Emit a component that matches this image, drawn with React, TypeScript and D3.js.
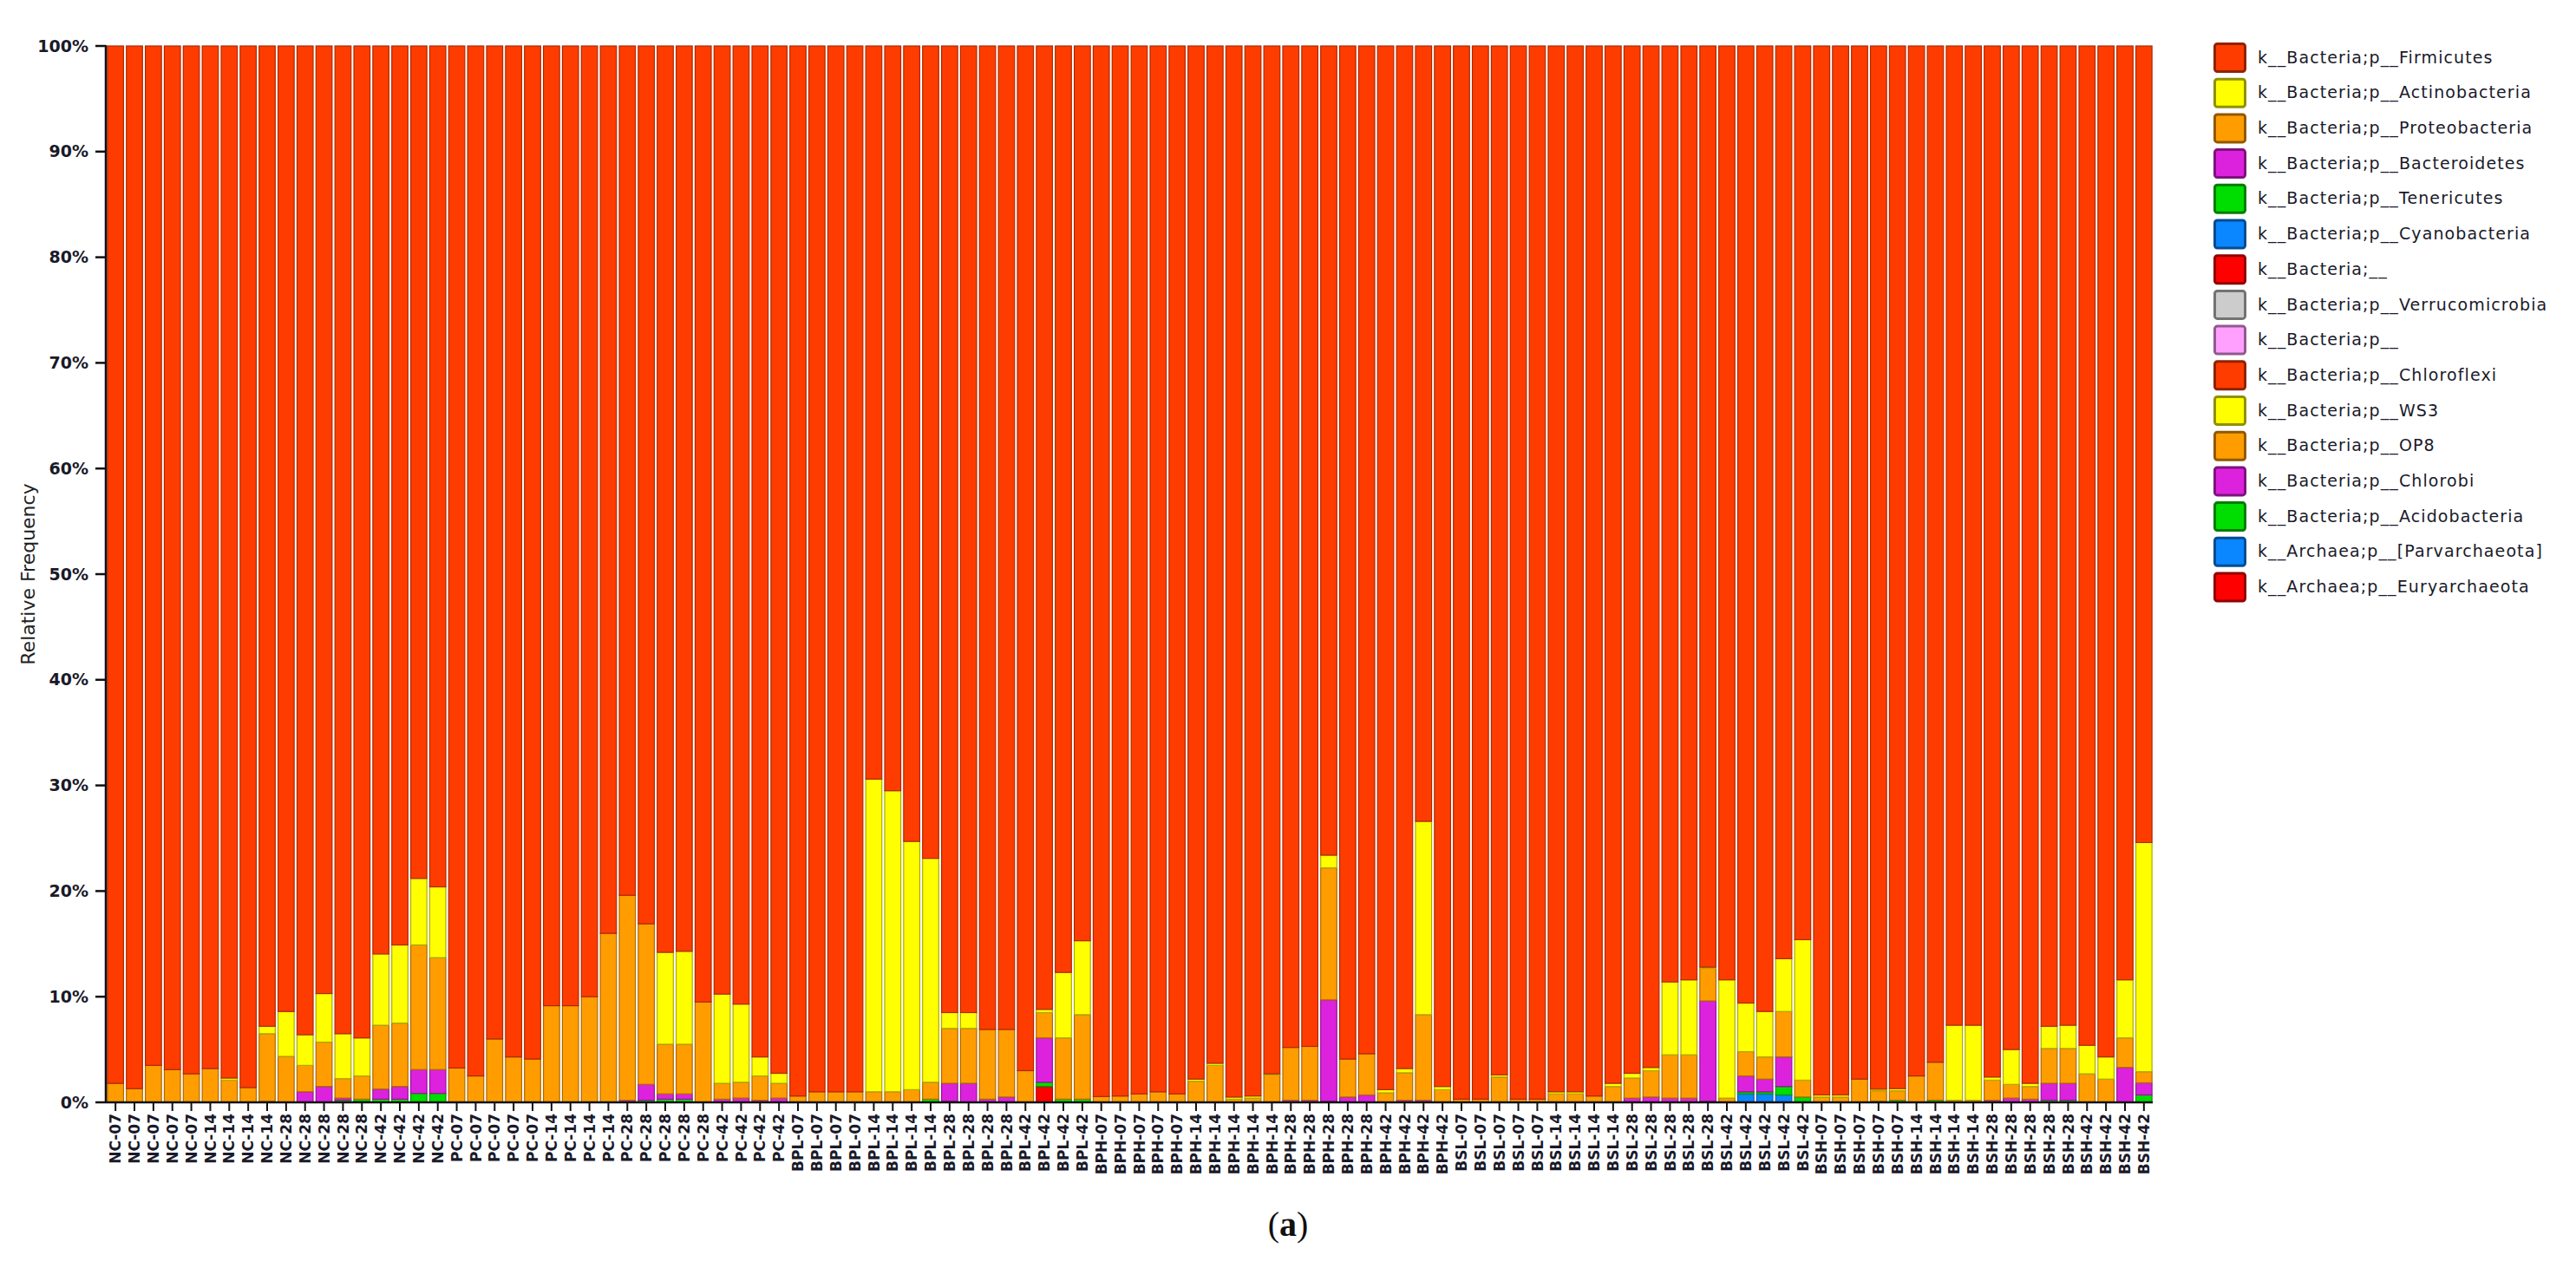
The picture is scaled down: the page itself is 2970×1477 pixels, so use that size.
import React from "react";
import * as d3 from "d3";

// ---------- sample (x-axis) labels ----------
const samples: string[] = [
  "NC-07", "NC-07", "NC-07", "NC-07", "NC-07", "NC-14", "NC-14", "NC-14", "NC-14",
  "NC-28", "NC-28", "NC-28", "NC-28", "NC-28", "NC-42", "NC-42", "NC-42", "NC-42",
  "PC-07", "PC-07", "PC-07", "PC-07", "PC-07", "PC-14", "PC-14", "PC-14", "PC-14",
  "PC-28", "PC-28", "PC-28", "PC-28", "PC-28", "PC-42", "PC-42", "PC-42", "PC-42",
  "BPL-07", "BPL-07", "BPL-07", "BPL-07", "BPL-14", "BPL-14", "BPL-14", "BPL-14",
  "BPL-28", "BPL-28", "BPL-28", "BPL-28", "BPL-42", "BPL-42", "BPL-42", "BPL-42",
  "BPH-07", "BPH-07", "BPH-07", "BPH-07", "BPH-07", "BPH-14", "BPH-14", "BPH-14", "BPH-14", "BPH-14",
  "BPH-28", "BPH-28", "BPH-28", "BPH-28", "BPH-28", "BPH-42", "BPH-42", "BPH-42", "BPH-42",
  "BSL-07", "BSL-07", "BSL-07", "BSL-07", "BSL-07", "BSL-14", "BSL-14", "BSL-14", "BSL-14",
  "BSL-28", "BSL-28", "BSL-28", "BSL-28", "BSL-28", "BSL-42", "BSL-42", "BSL-42", "BSL-42", "BSL-42",
  "BSH-07", "BSH-07", "BSH-07", "BSH-07", "BSH-07", "BSH-14", "BSH-14", "BSH-14", "BSH-14",
  "BSH-28", "BSH-28", "BSH-28", "BSH-28", "BSH-28", "BSH-42", "BSH-42", "BSH-42", "BSH-42",
];

// ---------- series values (% relative frequency) ----------
const firmicutes: number[] = [
  98.2, 98.7, 96.5, 96.9, 97.3, 96.8, 97.7, 98.6, 92.8, 91.4, 93.6, 89.7, 93.5, 93.9, 85.95, 85.1, 78.8, 79.6,
  96.75, 97.5, 94.0, 95.7, 95.9, 90.85, 90.85, 90.0, 84.0, 80.4, 83.1, 85.8, 85.7, 90.5, 89.75, 90.7, 95.7, 97.25,
  99.4, 99.0, 99.0, 99.0, 69.4, 70.5, 75.3, 76.9, 91.5, 91.5, 93.1, 93.1, 97.0, 91.2, 87.7, 84.7,
  99.45, 99.4, 99.2, 99.0, 99.2, 97.8, 96.3, 99.5, 99.4, 97.3, 94.8, 94.7, 76.6, 95.9, 95.4, 98.8, 96.8, 73.4, 98.5,
  99.7, 99.7, 97.4, 99.7, 99.7, 99.0, 99.0, 99.4, 98.2, 97.25, 96.7, 88.6, 88.4, 87.2, 88.4, 90.6, 91.4, 86.4, 84.6,
  99.3, 99.3, 97.8, 98.75, 98.7, 97.5, 96.2, 92.7, 92.7, 97.6, 95.0, 98.2, 92.8, 92.7, 94.6, 95.7, 88.4, 75.4,
];
const actinobacteria: number[] = [
  0, 0, 0, 0, 0, 0, 0.2, 0, 0.7, 4.25, 2.9, 4.6, 4.25, 3.6, 6.75, 7.4, 6.3, 6.7,
  0, 0, 0, 0, 0, 0, 0, 0, 0, 0, 0, 8.7, 8.8, 0, 8.45, 7.4, 1.8, 0.95,
  0, 0, 0, 0, 29.6, 28.5, 23.5, 21.2, 1.5, 1.5, 0, 0, 0, 0.3, 6.2, 7.0,
  0, 0, 0, 0, 0, 0.2, 0.2, 0.2, 0.2, 0.1, 0, 0, 1.2, 0, 0, 0.3, 0.4, 18.3, 0.3,
  0, 0, 0.2, 0, 0, 0.2, 0.2, 0, 0.3, 0.45, 0.3, 6.9, 7.1, 0.1, 11.2, 4.6, 4.3, 5.0, 13.3,
  0.2, 0.2, 0, 0.15, 0.2, 0, 0, 7.1, 7.1, 0.3, 3.3, 0.3, 2.1, 2.2, 2.7, 2.1, 5.5, 21.7,
];
const proteobacteria: number[] = [
  1.8, 1.3, 3.5, 3.1, 2.7, 3.2, 2.1, 1.4, 6.4, 4.35, 2.5, 4.2, 1.85, 2.2, 6.05, 6.0, 11.8, 10.6,
  3.25, 2.5, 6.0, 4.3, 4.1, 9.15, 9.15, 10.0, 16.0, 19.4, 15.2, 4.7, 4.7, 9.5, 1.5, 1.5, 2.3, 1.4,
  0.6, 1.0, 1.0, 1.0, 1.0, 1.0, 1.2, 1.6, 5.2, 5.2, 6.6, 6.4, 3.0, 2.4, 5.8, 8.0,
  0.55, 0.6, 0.8, 1.0, 0.8, 2.0, 3.5, 0.3, 0.4, 2.6, 5.0, 5.1, 12.5, 3.6, 3.9, 0.9, 2.6, 8.1, 1.2,
  0.3, 0.3, 2.4, 0.3, 0.3, 0.8, 0.8, 0.6, 1.5, 1.9, 2.5, 4.1, 4.1, 3.1, 0.4, 2.3, 2.1, 4.3, 1.6,
  0.5, 0.5, 2.2, 1.0, 0.9, 2.5, 3.6, 0.2, 0.2, 1.9, 1.3, 1.2, 3.3, 3.3, 2.7, 2.2, 2.8, 1.05,
];
const bacteroidetes: number[] = [
  0, 0, 0, 0, 0, 0, 0, 0, 0, 0, 1.0, 1.5, 0.2, 0, 0.95, 1.2, 2.25, 2.25,
  0, 0, 0, 0, 0, 0, 0, 0, 0, 0.2, 1.5, 0.5, 0.5, 0, 0.3, 0.4, 0.2, 0.4,
  0, 0, 0, 0, 0, 0, 0, 0, 1.7, 1.8, 0.3, 0.5, 0, 4.2, 0, 0,
  0, 0, 0, 0, 0, 0, 0, 0, 0, 0, 0.2, 0.2, 9.6, 0.5, 0.7, 0, 0.2, 0.2, 0,
  0, 0, 0, 0, 0, 0, 0, 0, 0, 0.4, 0.5, 0.4, 0.4, 9.5, 0, 1.5, 1.2, 2.8, 0,
  0, 0, 0, 0, 0, 0, 0, 0, 0, 0.2, 0.4, 0.3, 1.6, 1.6, 0, 0, 3.3, 1.15,
];
const tenericutes: number[] = [
  0, 0, 0, 0, 0, 0, 0, 0, 0.1, 0, 0, 0, 0.2, 0.2, 0.3, 0.3, 0.85, 0.85,
  0, 0, 0, 0, 0, 0, 0, 0, 0, 0, 0.2, 0.3, 0.3, 0, 0, 0, 0, 0,
  0, 0, 0, 0, 0, 0, 0, 0.3, 0.1, 0, 0, 0, 0, 0.4, 0.3, 0.3,
  0, 0, 0, 0, 0, 0, 0, 0, 0, 0, 0, 0, 0.1, 0, 0, 0, 0, 0, 0,
  0, 0, 0, 0, 0, 0, 0, 0, 0, 0, 0, 0, 0, 0.1, 0, 0.2, 0.2, 0.8, 0.5,
  0, 0, 0, 0.1, 0.2, 0, 0.2, 0, 0, 0, 0, 0, 0.2, 0.2, 0, 0, 0, 0.7,
];
// sparse minor phyla: [sample index, value]
const cyanobacteria: [number, number][] = [[86, 0.8], [87, 0.8], [88, 0.7]];
const bacteriaUnassigned: [number, number][] = [[49, 1.5]];
const bacteriaP: [number, number][] = [[13, 0.1]];
const verrucomicrobia: [number, number][] = [];
const chloroflexi: [number, number][] = [];
const ws3: [number, number][] = [];
const op8: [number, number][] = [];
const chlorobi: [number, number][] = [];
const acidobacteria: [number, number][] = [];
const parvarchaeota: [number, number][] = [];
const euryarchaeota: [number, number][] = [];

// ---------- legend ----------
const taxa: string[] = [
  "k__Bacteria;p__Firmicutes",
  "k__Bacteria;p__Actinobacteria",
  "k__Bacteria;p__Proteobacteria",
  "k__Bacteria;p__Bacteroidetes",
  "k__Bacteria;p__Tenericutes",
  "k__Bacteria;p__Cyanobacteria",
  "k__Bacteria;__",
  "k__Bacteria;p__Verrucomicrobia",
  "k__Bacteria;p__",
  "k__Bacteria;p__Chloroflexi",
  "k__Bacteria;p__WS3",
  "k__Bacteria;p__OP8",
  "k__Bacteria;p__Chlorobi",
  "k__Bacteria;p__Acidobacteria",
  "k__Archaea;p__[Parvarchaeota]",
  "k__Archaea;p__Euryarchaeota",
];
const taxaColors: string[] = [
  "#ff3c00", "#ffff00", "#ff9d00", "#dd22dd", "#00dd00", "#0a86ff", "#ff0000", "#cccccc",
  "#ffa0ff", "#ff3c00", "#ffff00", "#ff9d00", "#dd22dd", "#00dd00", "#0a86ff", "#ff0000",
];
const yTickValues: number[] = [0, 10, 20, 30, 40, 50, 60, 70, 80, 90, 100];

const sparse = (pairs: [number, number][]) => {
  const m = new Map(pairs);
  return samples.map((_, i) => m.get(i) ?? 0);
};

const seriesValues: number[][] = [
  firmicutes, actinobacteria, proteobacteria, bacteroidetes, tenericutes,
  sparse(cyanobacteria), sparse(bacteriaUnassigned), sparse(verrucomicrobia), sparse(bacteriaP),
  sparse(chloroflexi), sparse(ws3), sparse(op8), sparse(chlorobi), sparse(acidobacteria),
  sparse(parvarchaeota), sparse(euryarchaeota),
];

const FONT = "'DejaVu Sans', Verdana, sans-serif";

export default function App() {
  const W = 2970, H = 1477;
  const left = 122, right = 2482, top = 53, bottom = 1271;

  const x = d3.scaleBand<number>()
    .domain(d3.range(samples.length))
    .range([left + 1, right])
    .paddingInner(0.15)
    .paddingOuter(0.04);
  const y = d3.scaleLinear().domain([0, 100]).range([bottom, top]);

  const table = samples.map((_, i) => {
    const row: Record<string, number> = {};
    taxa.forEach((t, k) => { row[t] = seriesValues[k][i]; });
    return row;
  });
  // first legend entry sits on top of the stack
  const stackKeys = [...taxa].reverse();
  const stacked = d3.stack<Record<string, number>>().keys(stackKeys)(table);
  const colorOf = new Map(taxa.map((t, k) => [t, taxaColors[k]]));

  return (
    <div style={{ position: "absolute", left: 0, top: 0 }}>
      <svg width={W} height={H} style={{ display: "block", background: "#fff" }}>
        {/* bars */}
        <g>
          {stacked.map((layer) => {
            const c = colorOf.get(layer.key)!;
            const dark = d3.color(c)!.darker(1.1).formatHex();
            return (
              <g key={layer.key}>
                {layer.map((d, i) => {
                  const v1 = Math.min(d[1], 100);
                  const v0 = Math.min(d[0], 100);
                  if (v1 - v0 <= 0.02) return null;
                  const y0 = y(v0), y1 = y(v1);
                  return (
                    <rect
                      key={i}
                      x={x(i)!}
                      y={y1}
                      width={x.bandwidth()}
                      height={Math.max(0.8, y0 - y1)}
                      fill={c}
                      stroke={dark}
                      strokeWidth={1.2}
                    />
                  );
                })}
              </g>
            );
          })}
        </g>

        {/* y axis */}
        <line x1={left} x2={left} y1={top - 1} y2={bottom} stroke="#111" strokeWidth={2.5} />
        {yTickValues.map((t) => (
          <g key={t} transform={`translate(0,${y(t)})`}>
            <line x1={left - 12} x2={left} stroke="#111" strokeWidth={2.5} />
            <text x={102} dy="0.35em" textAnchor="end" fontFamily={FONT} fontSize={19}
              fontWeight="bold" fill="#1a1a2a">{`${t}%`}</text>
          </g>
        ))}
        <text transform={`translate(40,${(top + bottom) / 2}) rotate(-90)`} textAnchor="middle"
          fontFamily={FONT} fontSize={22} fill="#222">Relative Frequency</text>

        {/* x axis */}
        <line x1={left} x2={right} y1={bottom} y2={bottom} stroke="#111" strokeWidth={2.5} />
        {samples.map((s, i) => {
          const cx = x(i)! + x.bandwidth() / 2;
          return (
            <g key={i} transform={`translate(${cx},${bottom})`}>
              <line y1={0} y2={10} stroke="#111" strokeWidth={2} />
              <text transform="translate(0,13) rotate(-90)" dy="0.36em" textAnchor="end"
                fontFamily={FONT} fontSize={17} fontWeight="bold" fill="#1a1a2a">{s}</text>
            </g>
          );
        })}

        {/* legend */}
        {taxa.map((t, k) => {
          const ty = 49 + k * 40.7;
          const c = taxaColors[k];
          return (
            <g key={t} transform={`translate(2552,${ty})`}>
              <rect x={1.5} y={1.5} width={35} height={32} rx={3} fill={c}
                stroke={d3.color(c)!.darker(1.6).formatHex()} strokeWidth={3} />
              <text x={51} y={17} dy="0.35em" fontFamily={FONT} fontSize={19} letterSpacing={1.1}
                fill="#1a1a2a">{t}</text>
            </g>
          );
        })}

        {/* caption */}
        <text x={1485} y={1425} textAnchor="middle" fontFamily="'Liberation Serif', 'Times New Roman', serif"
          fontSize={40} fill="#111">(<tspan fontWeight="bold">a</tspan>)</text>
      </svg>
    </div>
  );
}
